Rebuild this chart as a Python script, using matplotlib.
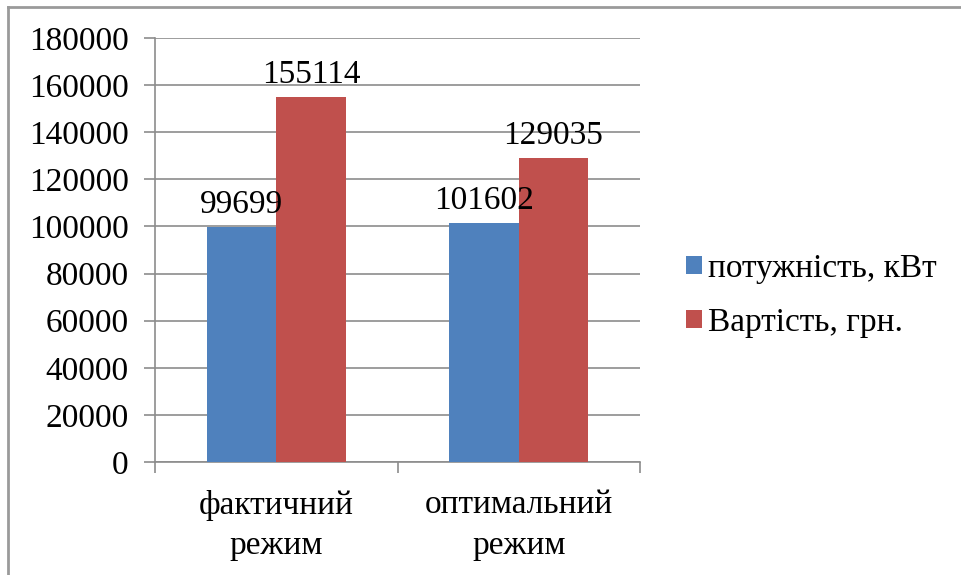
import matplotlib.pyplot as plt
import numpy as np
from matplotlib.lines import Line2D

# дані з діаграми
categories = ["фактичний\nрежим", "оптимальний\nрежим"]
power_kw = [99699, 101602]
cost_uah = [155114, 129035]
series_names = ["потужність, кВт", "Вартість, грн."]
yticks = [0, 20000, 40000, 60000, 80000, 100000, 120000, 140000, 160000, 180000]

plt.rcParams['font.family'] = 'serif'
plt.rcParams['font.serif'] = ['Liberation Serif', 'DejaVu Serif']
fs = 24

fig = plt.figure(figsize=(9.61, 5.75), dpi=100)
ax = fig.add_axes([0.1613, 0.1965, 0.5047, 0.7374])

x = np.arange(len(categories))
w = 0.2857
b1 = ax.bar(x - w / 2, power_kw, w, color="#4F81BD", label=series_names[0], zorder=3)
b2 = ax.bar(x + w / 2, cost_uah, w, color="#C0504D", label=series_names[1], zorder=3)

for bars in (b1, b2):
    for r in bars:
        ax.annotate(f"{int(r.get_height())}", (r.get_x() + r.get_width() / 2, r.get_height()),
                    xytext=(0, 5), textcoords="offset points", ha="center", va="bottom",
                    fontsize=fs, color="black")

ax.set_xlim(-0.5, 1.5)
ax.set_ylim(0, 180000)
ax.set_yticks(yticks)
ax.set_yticklabels([str(v) for v in yticks], fontsize=fs)
ax.grid(axis="y", color="#8c8c8c", linewidth=1.2, zorder=0)

ax.set_xticks(x)
ax.set_xticklabels(categories, fontsize=fs, linespacing=1.42)
ax.set_xticks([-0.5, 0.5, 1.5], minor=True)
ax.tick_params(axis="x", which="major", length=0, pad=20)
ax.tick_params(axis="x", which="minor", length=8, width=1.2, color="#8c8c8c", direction="out")
ax.tick_params(axis="y", length=8, width=1.2, color="#8c8c8c", pad=11)

for side in ("top", "right"):
    ax.spines[side].set_visible(False)
for side in ("left", "bottom"):
    ax.spines[side].set_color("#8c8c8c")
    ax.spines[side].set_linewidth(1.2)

ax.legend(loc="center left", bbox_to_anchor=(0.697, 0.486), bbox_transform=fig.transFigure,
          frameon=False, fontsize=fs, handlelength=0.46, handleheight=0.46,
          handletextpad=0.2, labelspacing=0.72, borderpad=0)

# рамка діаграми (видно лише верхню та ліву сторони)
fig.add_artist(Line2D([0.0085, 1.0], [0.988, 0.988], color="#9a9a9a", linewidth=2, transform=fig.transFigure))
fig.add_artist(Line2D([0.0085, 0.0085], [0.0, 0.988], color="#9a9a9a", linewidth=2, transform=fig.transFigure))

fig.savefig("out.png", dpi=100)
